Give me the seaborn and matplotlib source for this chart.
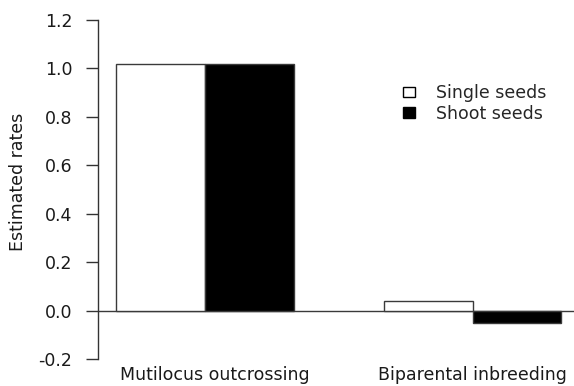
import matplotlib
matplotlib.use("Agg")
import matplotlib.pyplot as plt
import matplotlib.transforms as mtransforms
import seaborn as sns
import pandas as pd
from matplotlib.patches import Patch

categories = ["Mutilocus outcrossing", "Biparental inbreeding"]
series = ["Single seeds", "Shoot seeds"]
single_vals = [1.02, 0.04]
shoot_vals = [1.02, -0.05]
yticks = [-0.2, 0.0, 0.2, 0.4, 0.6, 0.8, 1.0, 1.2]

df = pd.DataFrame({
    "cat": categories * 2,
    "series": [series[0]] * 2 + [series[1]] * 2,
    "value": single_vals + shoot_vals,
})

sns.set_theme(style="white")
plt.rcParams["font.family"] = ["DejaVu Sans"]
FS = 12.5
TXT = "#1a1a1a"

fig = plt.figure(figsize=(5.74, 3.86), dpi=100)
ax = fig.add_axes([98/574, 27/386, 1 - 98/574, 339/386])

sns.barplot(data=df, x="cat", y="value", hue="series", order=categories,
            hue_order=series, palette=["white", "black"], edgecolor="#3a3a3a",
            linewidth=1.0, width=0.662, ax=ax, legend=False, errorbar=None)

ax.axhline(0, color="#3a3a3a", lw=1.0, zorder=0.5)
ax.set_xlim(-0.4, 1.379)
ax.set_ylim(-0.2, 1.2)
ax.set_yticks(yticks)
ax.set_yticklabels([f"{t:.1f}" for t in yticks], fontsize=FS, color=TXT)
ax.tick_params(axis="y", length=8.6, width=1.0, color="#333333", pad=10, left=True)
ax.tick_params(axis="x", length=0, pad=5, labelsize=FS, labelcolor=TXT)
ax.set_xlabel("")
ax.set_ylabel("Estimated rates", fontsize=FS, color=TXT)
ax.yaxis.set_label_coords(-0.15, 0.522)

# the first category label sits slightly right of its group centre in the reference
lbl = ax.get_xticklabels()[0]
lbl.set_transform(lbl.get_transform() + mtransforms.ScaledTranslation(10/100, 0, fig.dpi_scale_trans))

for s in ["top", "right", "bottom"]:
    ax.spines[s].set_visible(False)
ax.spines["left"].set_color("#333333")
ax.spines["left"].set_linewidth(1.0)

handles = [Patch(facecolor=c, edgecolor="black", linewidth=1.0) for c in ["white", "black"]]
fig.legend(handles, series, loc="upper left", bbox_to_anchor=(403/574, 1 - 84/386),
           bbox_transform=fig.transFigure, frameon=False, fontsize=FS,
           handletextpad=1.2, labelspacing=0.15, handlelength=0.7,
           handleheight=0.52, borderpad=0, borderaxespad=0)

fig.savefig("out.png", dpi=100)
